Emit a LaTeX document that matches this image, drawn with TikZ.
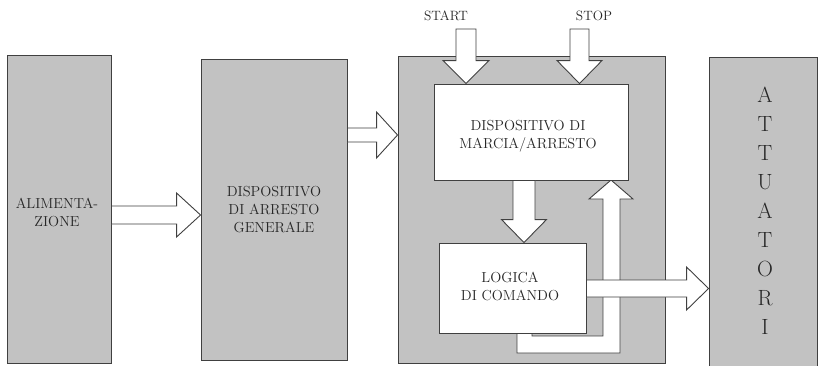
\documentclass[tikz,border=0pt]{standalone}
\usepackage{fontspec}
\usetikzlibrary{calc}
\newcommand\harr[5]{%
  \draw[blk] ($(#1)+(0,-#3)$) -- ($(#2)+(-#5,-#3)$) -- ($(#2)+(-#5,-#4)$) -- (#2)
    -- ($(#2)+(-#5,#4)$) -- ($(#2)+(-#5,#3)$) -- ($(#1)+(0,#3)$) -- cycle;}
\newcommand\varr[5]{%
  \draw[blk] ($(#1)+(-#3,0)$) -- ($(#2)+(-#3,{-(#5)})$) -- ($(#2)+(-#4,{-(#5)})$) -- (#2)
    -- ($(#2)+(#4,{-(#5)})$) -- ($(#2)+(#3,{-(#5)})$) -- ($(#1)+(#3,0)$) -- cycle;}
\tikzset{
  greybox/.style={draw=black!75, line width=0.9pt, fill=black!24, inner sep=0pt},
  whitebox/.style={draw=black!75, line width=0.9pt, fill=white, inner sep=0pt},
  blk/.style={draw=black!75, line width=0.9pt, fill=white, line join=miter},
  lbl/.style={font=\fontsize{14.5}{18}\selectfont, text=black!85, align=center, inner sep=0pt},
  sig/.style={font=\fontsize{13.5}{16}\selectfont, text=black!85, inner sep=0pt},
  big/.style={font=\fontsize{22}{29}\selectfont, text=black!85, align=center, inner sep=0pt}
}
\begin{document}
\begin{tikzpicture}[x=1pt,y=-1pt]
\useasboundingbox (0,0) rectangle (819,365);
\fill[white] (0,0) rectangle (819,365);
% grey boxes
\node[greybox, minimum width=104pt, minimum height=308pt] (alim) at (59,209) {};
\node[greybox, minimum width=146pt, minimum height=301pt] (disp) at (274,209.5) {};
\node[greybox, minimum width=267pt, minimum height=307pt] (main) at (531.5,209.5) {};
\node[greybox, minimum width=108pt, minimum height=310pt] (attu) at (763,212) {};
% labels of grey boxes
\node[lbl] (alimtxt) at (57,212) {ALIMENTA-\\ZIONE};
\node[lbl] (disptxt) at (274,210) {DISPOSITIVO\\DI ARRESTO\\GENERALE};
\node[big] (attutxt) at (765,211) {A\\T\\T\\U\\A\\T\\O\\R\\I};
% signals
\node[sig] (start) at (446,16) {START};
\node[sig] (stop) at (594,16) {STOP};
\coordinate (startS) at (466,29);
\coordinate (stopS) at (579.5,29);
% arrows between grey boxes
\harr{alim.east |- 0,215}{disp.west |- 0,215}{9}{22}{24}
\harr{disp.east |- 0,135}{main.west |- 0,135}{7}{23}{21}
% feedback arrow
\coordinate (fbtip) at (611,180);
\draw[blk] (517,333) -- (517,353) -- (620,353) -- (620,199) -- (633,199) -- (fbtip)
  -- (589,199) -- (603,199) -- (603,336) -- (532,336) -- (532,333) -- cycle;
% inner boxes
\node[whitebox, minimum width=194pt, minimum height=96pt] (marcia) at (531,132) {};
\node[lbl] (marciatxt) at (528,136) {DISPOSITIVO DI\\MARCIA/ARRESTO};
\node[whitebox, minimum width=147pt, minimum height=90pt] (logica) at (512.5,288) {};
\node[lbl] (logicatxt) at (510,286) {LOGICA\\DI COMANDO};
% arrows into / between inner boxes
\varr{startS}{marcia.north -| startS}{10}{23}{23}
\varr{stopS}{marcia.north -| stopS}{9.5}{22.5}{23}
\varr{marcia.south -| 524,0}{logica.north -| 524,0}{11}{22.5}{23}
\harr{logica.east |- 0,288.5}{attu.west |- 0,288.5}{8.5}{21.5}{22}
\end{tikzpicture}
\end{document}
